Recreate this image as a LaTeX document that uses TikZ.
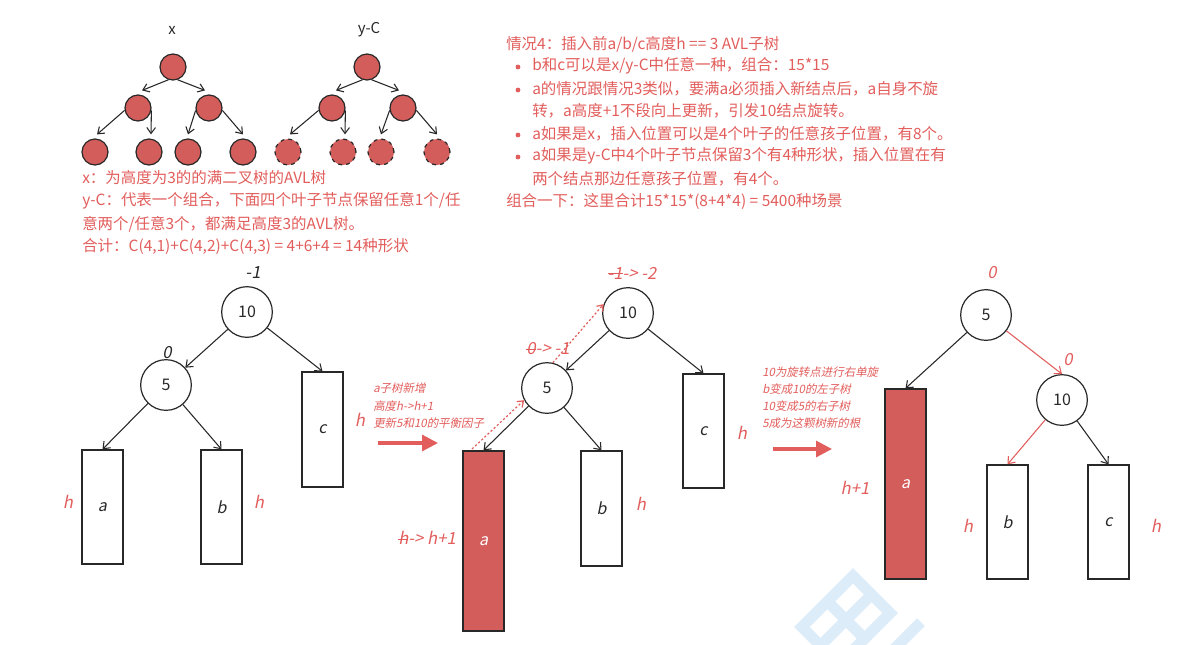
\documentclass[tikz,border=0pt]{standalone}
\usepackage{fontspec}
\setmainfont{Noto Sans CJK SC}
\newfontfamily\itf[FakeSlant=0.2]{Noto Sans CJK SC}
\usetikzlibrary{arrows.meta,calc}
\definecolor{rtxt}{RGB}{226,94,92}
\definecolor{rfill}{RGB}{211,93,90}
\definecolor{ink}{RGB}{40,40,40}
\definecolor{wm}{RGB}{221,236,249}
\newcommand\myStrike[1]{\setbox0=\hbox{#1}\rlap{\rule[0.3em]{\wd0}{0.6pt}}\box0}
\tikzset{
  tc/.style={circle,draw=ink,fill=rfill,line width=0.9pt,minimum size=19.5pt,inner sep=0pt},
  tcd/.style={tc,dashed},
  te/.style={-{Straight Barb[length=4.5pt,width=6.5pt]},draw=ink,line width=0.8pt},
  big/.style={circle,draw=ink,line width=0.9pt,minimum size=38pt,inner sep=0pt,font=\fontsize{12}{14}\selectfont,text=ink},
  sbox/.style={draw=ink,line width=1pt,minimum width=30.75pt,inner sep=0pt,font=\itf\fontsize{12}{14}\selectfont,text=ink},
  rbox/.style={sbox,fill=rfill,text=white},
  edg/.style={-{Straight Barb[length=4.5pt,width=7pt]},draw=ink,line width=0.8pt},
  redg/.style={edg,draw=rtxt},
  dots/.style={-{Straight Barb[length=4pt,width=6pt]},draw=rtxt,line width=0.9pt,dash pattern=on 1.6pt off 1.6pt},
  fat/.style={line width=2.3pt,draw=rtxt,-{Triangle[length=12pt,width=12pt]}},
  lbl/.style={font=\itf\fontsize{12.5}{14}\selectfont,text=rtxt,inner sep=0pt},
  blbl/.style={lbl,text=ink},
  note/.style={font=\itf\fontsize{8.6}{10}\selectfont,text=rtxt,anchor=west,inner sep=0pt},
  cn/.style={font=\fontsize{11.6}{13}\selectfont,text=rtxt,anchor=west,inner sep=0pt},
  bul/.style={circle,fill=rtxt,inner sep=0pt,minimum size=3.6pt},
  ttl/.style={font=\fontsize{11.2}{13}\selectfont,text=ink,inner sep=0pt}
}
\begin{document}
\begin{tikzpicture}[x=0.75pt,y=-0.75pt]
\useasboundingbox (0,0) rectangle (1194,644);
\fill[white] (0,0) rectangle (1194,644);
% watermark
\begin{scope}
\clip (0,0) rectangle (1194,644);
\draw[wm,line width=8.25pt,line join=miter] (853,575.8) -- (890.2,613) -- (839,664.2) -- (801.8,627) -- cycle;
\draw[wm,line width=8.25pt] (827.4,601.4) -- (864.6,638.6);
\draw[wm,line width=8.25pt] (871.6,594.4) -- (820.4,645.6);
\draw[wm,line width=8.25pt] (921,622) -- (880,663);
\end{scope}

% ---------- small trees ----------
\node[ttl] (tx) at (172,30) {x};
\node[ttl] (ty) at (369,30) {y-C};
\node[tc] (xr) at (173,67) {};
\node[tc] (xl) at (138,108) {};
\node[tc] (xrt) at (209,108) {};
\node[tc] (x1) at (95,152) {};
\node[tc] (x2) at (149,152) {};
\node[tc] (x3) at (188,152) {};
\node[tc] (x4) at (243,152) {};
\draw[te] (xr.250) -- ($(xl.north)+(4,-4)$);
\draw[te] (xr.290) -- ($(xrt.north)+(-4,-4)$);
\draw[te] (xl.190) -- ($(x1.north)+(2,-4)$);
\draw[te] (xl.-10) -- ($(x2.north)+(2,-4)$);
\draw[te] (xrt.190) -- ($(x3.north)+(0,-4)$);
\draw[te] (xrt.-10) -- ($(x4.north)+(0,-4)$);
\node[tc] (yr) at (367,67) {};
\node[tc] (yl) at (332,108) {};
\node[tc] (yrt) at (403,108) {};
\node[tcd] (y1) at (288,152) {};
\node[tcd] (y2) at (343,152) {};
\node[tcd] (y3) at (381,152) {};
\node[tcd] (y4) at (437,152) {};
\draw[te] (yr.250) -- ($(yl.north)+(4,-4)$);
\draw[te] (yr.290) -- ($(yrt.north)+(-4,-4)$);
\draw[te] (yl.190) -- ($(y1.north)+(2,-4)$);
\draw[te] (yl.-10) -- ($(y2.north)+(2,-4)$);
\draw[te] (yrt.190) -- ($(y3.north)+(0,-4)$);
\draw[te] (yrt.-10) -- ($(y4.north)+(0,-4)$);

% ---------- left text ----------
\node[cn] (l1) at (82,178) {x：为高度为3的的满二叉树的AVL树};
\node[cn] (l2) at (82,201) {y-C：代表一个组合，下面四个叶子节点保留任意1个/任};
\node[cn] (l3) at (82,224) {意两个/任意3个，都满足高度3的AVL树。};
\node[cn] (l4) at (82,246) {合计：C(4,1)+C(4,2)+C(4,3) = 4+6+4 = 14种形状};

% ---------- right text ----------
\node[cn] (r1) at (506,44) {情况4：插入前a/b/c高度h == 3 AVL子树};
\node[bul] (b1) at (518,67) {};
\node[cn] (r2) at (532,66) {b和c可以是x/y-C中任意一种，组合：15*15};
\node[bul] (b2) at (518,90) {};
\node[cn] (r3) at (532,89) {a的情况跟情况3类似，要满a必须插入新结点后，a自身不旋};
\node[cn] (r4) at (532,111) {转，a高度+1不段向上更新，引发10结点旋转。};
\node[bul] (b3) at (518,135) {};
\node[cn] (r5) at (532,134) {a如果是x，插入位置可以是4个叶子的任意孩子位置，有8个。};
\node[bul] (b4) at (518,157) {};
\node[cn] (r6) at (532,156) {a如果是y-C中4个叶子节点保留3个有4种形状，插入位置在有};
\node[cn] (r7) at (532,179) {两个结点那边任意孩子位置，有4个。};
\node[cn] (r8) at (506,201) {组合一下：这里合计15*15*(8+4*4) = 5400种场景};

% ---------- diagram 1 ----------
\node[big] (p10) at (247,312) {10};
\node[big] (p5) at (166,385) {5};
\node[sbox,minimum height=85.5pt] (pa) at (102.5,507) {a};
\node[sbox,minimum height=85.5pt] (pb) at (221.5,507) {b};
\node[sbox,minimum height=86.25pt] (pc) at (322.5,429.5) {c};
\draw[edg] (p10) -- (p5);
\draw[edg] (p10) -- (pc.north);
\draw[edg] (p5) -- (pa.north);
\draw[edg] (p5) -- (pb.north);
\node[blbl] (pl10) at (253,273) {-1};
\node[blbl] (pl5) at (167,353) {0};
\node[lbl] (phc) at (360,420) {h};
\node[lbl] (pha) at (68,502) {h};
\node[lbl] (phb) at (259,502) {h};

% arrow 1
\node[note] (n1) at (373,388) {a子树新增};
\node[note] (n2) at (373,406) {高度h->h+1};
\node[note] (n3) at (373,423) {更新5和10的平衡因子};
\coordinate (f1s) at (378,443);
\coordinate (f1e) at (438,443);
\draw[fat] (f1s) -- (f1e);

% ---------- diagram 2 ----------
\node[big] (q10) at (628,313) {10};
\node[big] (q5) at (547,388) {5};
\node[rbox,minimum height=135pt] (qa) at (483.5,541) {a};
\node[sbox,minimum height=86.25pt] (qb) at (601.5,508.5) {b};
\node[sbox,minimum height=85.5pt] (qc) at (703.5,431) {c};
\draw[edg] (q10) -- (q5);
\draw[edg] (q10) -- (qc.north);
\draw[edg] (q5) -- (qa.north);
\draw[edg] (q5) -- (qb.north);
\coordinate (qd1) at (472,449);
\draw[dots] (qd1) -- (q5.208);
\draw[dots] (q5.77) -- (q10.160);
\node[lbl] (ql10) at (632,273) {\myStrike{-1} -> -2};
\node[lbl] (ql5) at (548,349) {\myStrike{0} -> -1};
\node[lbl] (qhc) at (742,433) {h};
\node[lbl] (qha) at (427,538) {\myStrike{h} -> h+1};
\node[lbl] (qhb) at (641,504) {h};

% arrow 2
\node[note] (m1) at (762,372) {10为旋转点进行右单旋};
\node[note] (m2) at (762,389) {b变成10的左子树};
\node[note] (m3) at (762,406) {10变成5的右子树};
\node[note] (m4) at (762,423) {5成为这颗树新的根};
\coordinate (f2s) at (773,449);
\coordinate (f2e) at (832,449);
\draw[fat] (f2s) -- (f2e);

% ---------- diagram 3 ----------
\node[big] (s5) at (986,315) {5};
\node[big] (s10) at (1062,400) {10};
\node[rbox,minimum height=142.5pt] (sa) at (905.5,484) {a};
\node[sbox,minimum height=85.5pt] (sb) at (1007.5,522) {b};
\node[sbox,minimum height=85.5pt] (sc) at (1108.5,522) {c};
\draw[edg] (s5) -- (sa.north);
\draw[redg] (s5) -- (s10.north);
\draw[redg] (s10) -- (sb.north);
\draw[edg] (s10) -- (sc.north);
\node[lbl] (sl5) at (992,273) {0};
\node[lbl] (sl10) at (1068,360) {0};
\node[lbl] (sha) at (855,488) {h+1};
\node[lbl] (shb) at (968,526) {h};
\node[lbl] (shc) at (1156,526) {h};
\end{tikzpicture}
\end{document}
